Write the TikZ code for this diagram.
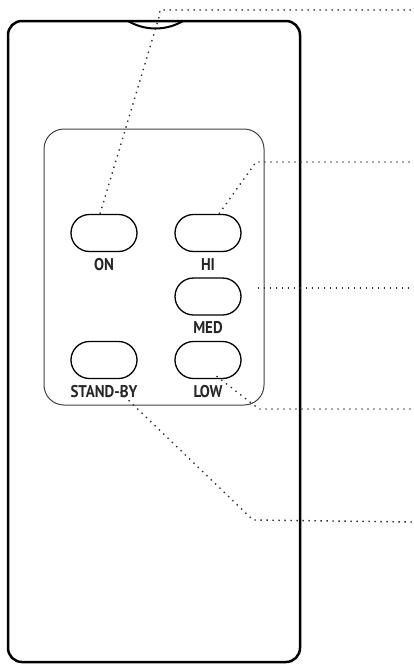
\documentclass[tikz,border=0pt]{standalone}
\usepackage{fontspec}
\setmainfont{PT Sans}
\newfontfamily\keyfont[FakeStretch=0.88]{PT Sans}
\usetikzlibrary{shapes.misc}
\begin{document}
\begin{tikzpicture}[
  btn/.style={draw,rounded rectangle,line width=1.3pt,minimum width=66pt,minimum height=37pt,inner sep=0pt},
  lbl/.style={draw=none,font=\keyfont\bfseries\fontsize{17pt}{17pt}\selectfont,text=black!85,inner sep=0pt},
  leader/.style={line width=1.4pt,dash pattern=on 1.4pt off 4.6pt,black!80}]
\useasboundingbox (0pt,0pt) rectangle (414pt,-664pt);
% remote body and notch
\draw[line width=2.5pt,rounded corners=14pt] (8pt,-21pt) rectangle (300pt,-662pt);
\draw[line width=2pt] (128pt,-21pt) .. controls (145pt,-31pt) and (166pt,-31pt) .. (183pt,-21pt);
\coordinate (notch) at (159pt,-17pt);
% key panel
\draw[line width=1pt,black!75,rounded corners=20pt] (44pt,-129pt) rectangle (264pt,-405pt);
% keys
\node[btn] (on) at (104pt,-233pt) {};
\node[btn] (hi) at (208pt,-233pt) {};
\node[btn] (med) at (208pt,-296.5pt) {};
\node[btn] (low) at (208pt,-360pt) {};
\node[btn] (standby) at (104pt,-360pt) {};
\node[lbl] (onlbl) at (104pt,-265pt) {ON};
\node[lbl] (hilbl) at (208pt,-265pt) {HI};
\node[lbl] (medlbl) at (208pt,-328pt) {MED};
\node[lbl] (lowlbl) at (208pt,-392pt) {LOW};
\node[lbl] (standbylbl) at (104pt,-392pt) {STAND-BY};
% leader lines
\coordinate (onend) at (414pt,-10pt);
\coordinate (hiend) at (414pt,-162pt);
\coordinate (medend) at (414pt,-288pt);
\coordinate (lowend) at (414pt,-409pt);
\coordinate (standbyend) at (414pt,-522pt);
\draw[leader] ([xshift=-4pt]on.north) -- (notch) -- (160pt,-10pt) -- (onend);
\draw[leader] ([xshift=11pt]hi.north) -- (256pt,-162pt) -- (hiend);
\draw[leader] ([xshift=16pt,yshift=8.5pt]med.east) -- (medend);
\draw[leader] ([xshift=-6pt,yshift=3pt]low.south east) -- (259pt,-409pt) -- (lowend);
\draw[leader] ([xshift=16pt]standbylbl.center) -- (253pt,-520pt) -- (standbyend);
\end{tikzpicture}
\end{document}
